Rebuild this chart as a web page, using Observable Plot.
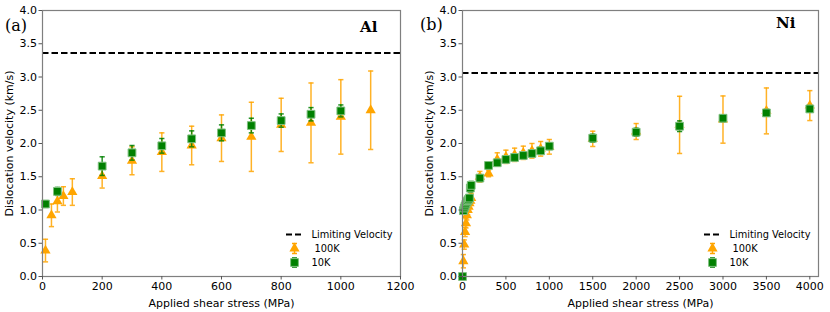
<!DOCTYPE html>
<html>
<head>
<meta charset="utf-8">
<script src="https://cdn.jsdelivr.net/npm/d3@7"></script>
<script src="https://cdn.jsdelivr.net/npm/@observablehq/plot@0.6"></script>
<style>
  html, body { margin: 0; padding: 0; background: #fff; }
  #wrap { position: relative; width: 830px; height: 312px; overflow: hidden; font-family: "DejaVu Sans", sans-serif; }
  .panel { position: absolute; top: 0; }
  .plabel { position: absolute; font-family: "DejaVu Serif", serif; font-size: 16px; color: #000; line-height: 1; }
  .elabel { position: absolute; font-family: "DejaVu Serif", serif; font-weight: bold; font-size: 15px; color: #000; line-height: 1; }
</style>
</head>
<body>
<div id="wrap"></div>
<script>
// ---------- Data ----------
// Al panel
const alLimit = 3.36;
const al10x = [10, 50, 200, 300, 400, 500, 600, 700, 800, 900, 1000];
const al10v = [1.09, 1.28, 1.66, 1.86, 1.965, 2.07, 2.16, 2.27, 2.345, 2.44, 2.49];
const al10e = [0.05, 0.06, 0.14, 0.11, 0.11, 0.12, 0.12, 0.11, 0.10, 0.10, 0.09];
const al100x = [10, 30, 50, 70, 100, 200, 300, 400, 500, 600, 700, 800, 900, 1000, 1100];
const al100v = [0.39, 0.92, 1.13, 1.21, 1.27, 1.51, 1.74, 1.87, 1.97, 2.08, 2.10, 2.28, 2.31, 2.40, 2.50];
const al100e = [0.17, 0.17, 0.16, 0.14, 0.20, 0.18, 0.21, 0.29, 0.29, 0.35, 0.52, 0.40, 0.60, 0.56, 0.59];
const alTicks = [0, 200, 400, 600, 800, 1000, 1200];

// Ni panel
const niLimit = 3.06;
const ni10x = [0, 10, 20, 30, 40, 50, 60, 70, 80, 90, 100, 200, 300, 400, 500, 600, 700, 800, 900, 1000, 1500, 2000, 2500, 3000, 3500, 4000];
const ni10v = [0, 0.99, 1.03, 1.06, 1.09, 1.12, 1.14, 1.16, 1.18, 1.33, 1.37, 1.48, 1.67, 1.71, 1.76, 1.79, 1.82, 1.85, 1.89, 1.96, 2.08, 2.17, 2.26, 2.38, 2.46, 2.52];
const ni10e = [0.02, 0.04, 0.04, 0.04, 0.04, 0.04, 0.04, 0.04, 0.05, 0.06, 0.06, 0.05, 0.05, 0.05, 0.05, 0.05, 0.05, 0.05, 0.05, 0.05, 0.06, 0.06, 0.08, 0.05, 0.05, 0.05];
const ni100x = [10, 20, 30, 40, 50, 60, 70, 80, 90, 100, 200, 300, 400, 500, 600, 700, 800, 900, 1000, 1500, 2000, 2500, 3000, 3500, 4000];
const ni100v = [0.23, 0.48, 0.67, 0.80, 0.92, 1.00, 1.05, 1.10, 1.14, 1.18, 1.50, 1.55, 1.76, 1.80, 1.83, 1.86, 1.89, 1.92, 1.95, 2.07, 2.18, 2.28, 2.36, 2.49, 2.57];
const ni100e = [0.10, 0.07, 0.07, 0.07, 0.07, 0.07, 0.07, 0.07, 0.07, 0.07, 0.08, 0.05, 0.10, 0.10, 0.10, 0.10, 0.11, 0.11, 0.11, 0.115, 0.12, 0.43, 0.355, 0.345, 0.225];
const niTicks = [0, 500, 1000, 1500, 2000, 2500, 3000, 3500, 4000];

const yTicks = [0, 0.5, 1.0, 1.5, 2.0, 2.5, 3.0, 3.5, 4.0];
const legendLabels = ["Limiting Velocity", " 100K", "10K"];

// ---------- Helpers ----------
const ORANGE = "#ffa500";
const GREEN = "#008000";

const zip = (xs, vs, es) => xs.map((x, i) => ({x, v: vs[i], e: es[i]}));

// horizontal cap symbol (half width = r)
const capSymbol = {draw(ctx, size) { const w = Math.sqrt(size / Math.PI); ctx.moveTo(-w, 0); ctx.lineTo(w, 0); }};
// legend line symbol
const lineSymbol = {draw(ctx, size) { const w = Math.sqrt(size / Math.PI); ctx.moveTo(-w, 0); ctx.lineTo(w, 0); }};
// legend errorbar symbol (vertical bar with caps)
const errSymbol = {draw(ctx, size) { const h = Math.sqrt(size / Math.PI); const c = 2.5; ctx.moveTo(0, -h); ctx.lineTo(0, h); ctx.moveTo(-c, -h); ctx.lineTo(c, -h); ctx.moveTo(-c, h); ctx.lineTo(c, h); }};

function seriesMarks(data, color, symbol, r, edge) {
  return [
    Plot.ruleX(data, {x: "x", y1: d => d.v - d.e, y2: d => d.v + d.e, stroke: color, strokeWidth: 1.5, strokeOpacity: 0.85}),
    Plot.dot(data, {x: "x", y: d => d.v + d.e, symbol: capSymbol, r: 2.6, stroke: color, strokeWidth: 1.5, strokeOpacity: 0.85, fill: "none"}),
    Plot.dot(data, {x: "x", y: d => d.v - d.e, symbol: capSymbol, r: 2.6, stroke: color, strokeWidth: 1.5, strokeOpacity: 0.85, fill: "none"}),
    Plot.dot(data, {x: "x", y: "v", symbol, r, fill: color, stroke: edge, strokeWidth: 1})
  ];
}

function legendMarks() {
  const fs = 9.8;
  return [
    Plot.dot([0], {frameAnchor: "bottom-right", dx: -106, dy: -42, symbol: lineSymbol, r: 8.5, stroke: "#000", strokeWidth: 2, strokeDasharray: "6,3", fill: "none"}),
    Plot.dot([0], {frameAnchor: "bottom-right", dx: -106, dy: -28, symbol: errSymbol, r: 5, stroke: ORANGE, strokeWidth: 1.5, fill: "none"}),
    Plot.dot([0], {frameAnchor: "bottom-right", dx: -106, dy: -28, symbol: "triangle", r: 3.8, fill: ORANGE, stroke: "none"}),
    Plot.dot([0], {frameAnchor: "bottom-right", dx: -106, dy: -14, symbol: errSymbol, r: 4.5, stroke: GREEN, strokeWidth: 1.5, fill: "none"}),
    Plot.dot([0], {frameAnchor: "bottom-right", dx: -106, dy: -14, symbol: "square", r: 4.4, fill: GREEN, stroke: "#80c080", strokeWidth: 1}),
    Plot.text([legendLabels[0]], {frameAnchor: "bottom-right", dx: -89, dy: -42, text: d => d, textAnchor: "start", lineAnchor: "middle", fontSize: fs, fill: "#000"}),
    Plot.text([legendLabels[1]], {frameAnchor: "bottom-right", dx: -89, dy: -28, text: d => d, textAnchor: "start", lineAnchor: "middle", fontSize: fs, fill: "#000", style: "white-space: pre"}),
    Plot.text([legendLabels[2]], {frameAnchor: "bottom-right", dx: -89, dy: -14, text: d => d, textAnchor: "start", lineAnchor: "middle", fontSize: fs, fill: "#000"})
  ];
}

function panel({xDomain, xTicks, limit, d10, d100, marginLeft, marginRight}) {
  return Plot.plot({
    width: 415,
    height: 312,
    marginLeft, marginRight,
    marginTop: 10,
    marginBottom: 36,
    style: {fontFamily: "DejaVu Sans, sans-serif", fontSize: "10.5px", color: "#000", background: "#fff"},
    x: {domain: xDomain},
    y: {domain: [0, 4]},
    marks: [
      Plot.ruleY([limit], {stroke: "#000", strokeWidth: 2, strokeDasharray: "6.5,3"}),
      ...seriesMarks(d100, ORANGE, "triangle", 3.8, "none"),
      ...seriesMarks(d10, GREEN, "square", 4.4, "#80c080"),
      ...legendMarks(),
      Plot.frame({stroke: "#7f7f7f", strokeWidth: 1.2}),
      Plot.axisX({ticks: xTicks, tickFormat: d => String(d), tickSize: 3.5, tickPadding: 2, stroke: "#555", fill: "#000", fontSize: 11,
        label: "Applied shear stress (MPa)", labelAnchor: "center", labelArrow: "none", labelOffset: 30}),
      Plot.axisY({ticks: yTicks, tickFormat: d3.format(".1f"), tickSize: 3.5, tickPadding: 2, stroke: "#555", fill: "#000", fontSize: 11,
        label: "Dislocation velocity (km/s)", labelAnchor: "center", labelArrow: "none", labelOffset: 37})
    ]
  });
}

const wrap = document.getElementById("wrap");

const left = panel({xDomain: [0, 1200], xTicks: alTicks, limit: alLimit,
  d10: zip(al10x, al10v, al10e), d100: zip(al100x, al100v, al100e), marginLeft: 42, marginRight: 15});
left.classList.add("panel"); left.style.left = "0px";
wrap.appendChild(left);

const right = panel({xDomain: [0, 4100], xTicks: niTicks, limit: niLimit,
  d10: zip(ni10x, ni10v, ni10e), d100: zip(ni100x, ni100v, ni100e), marginLeft: 47, marginRight: 12});
right.classList.add("panel"); right.style.left = "415px";
wrap.appendChild(right);

function addLabel(cls, text, x, y) {
  const el = document.createElement("div");
  el.className = cls; el.textContent = text;
  el.style.left = x + "px"; el.style.top = y + "px";
  wrap.appendChild(el);
}
addLabel("plabel", "(a)", 5, 18);
addLabel("plabel", "(b)", 420, 17);
addLabel("elabel", "Al", 360, 20);
addLabel("elabel", "Ni", 776, 16);
</script>
</body>
</html>
